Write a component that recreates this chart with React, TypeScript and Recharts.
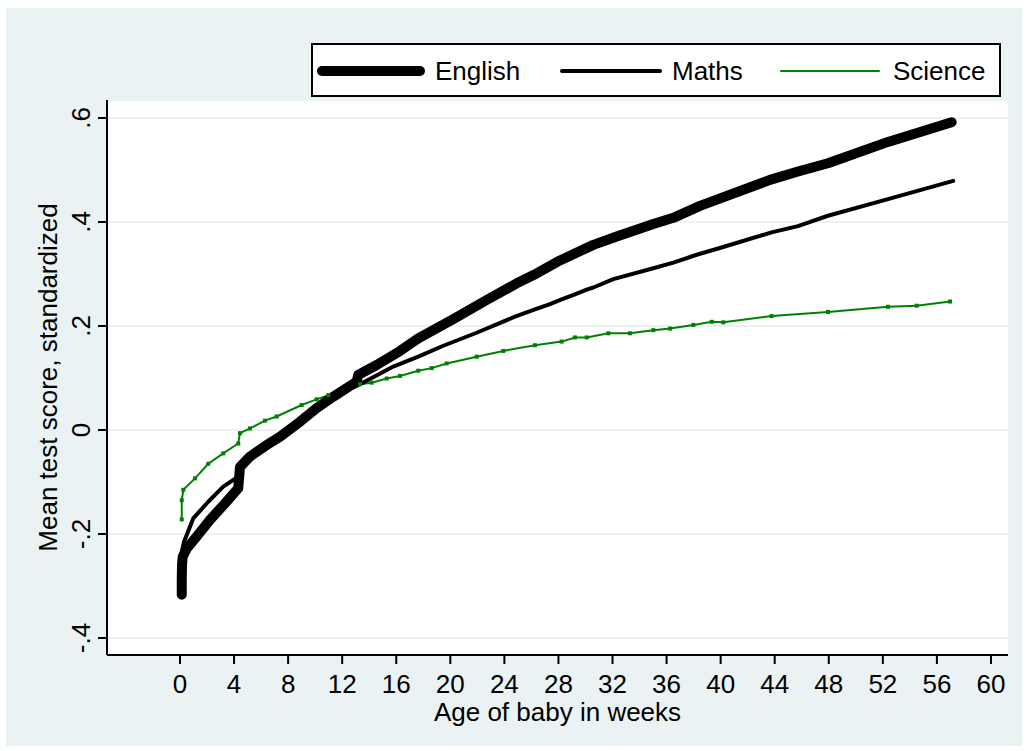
import { LineChart, Line, XAxis, YAxis, CartesianGrid } from "recharts";

const englishWeeks = [
  0.13, 0.13, 0.15, 0.2, 0.5, 1.23, 2.22, 3.33, 4.31, 4.44, 5.18, 6.41, 7.4, 8.88, 10.11, 11.34, 13.07, 13.19,
  14.55, 16.28, 17.63, 20.22, 22.69, 24.91, 26.39, 28.11, 30.58, 32.31, 35.02, 36.5, 38.47, 43.65, 45.72, 47.94,
  52.38, 57.09,
];
const englishScores = [
  -0.317, -0.29, -0.26, -0.244, -0.228, -0.205, -0.173, -0.141, -0.112, -0.071, -0.051, -0.029, -0.013, 0.016,
  0.042, 0.064, 0.093, 0.106, 0.125, 0.152, 0.176, 0.213, 0.25, 0.282, 0.301, 0.326, 0.356, 0.372, 0.396, 0.408,
  0.431, 0.481, 0.497, 0.513, 0.554, 0.592,
];

const mathsWeeks = [
  0.1, 0.13, 0.3, 0.98, 2.09, 3.2, 4.31, 4.44, 5.5, 7.0, 8.9, 10.5, 12.0, 13.32, 15.78, 17.63, 19.48, 21.95,
  24.78, 26.26, 27.37, 28.24, 29.22, 30.09, 30.58, 32.06, 35.02, 36.5, 38.23, 39.82, 43.77, 45.72, 47.94, 52.38,
  57.21,
];
const mathsScores = [
  -0.268, -0.235, -0.215, -0.17, -0.138, -0.109, -0.09, -0.068, -0.048, -0.02, 0.018, 0.048, 0.072, 0.088, 0.122,
  0.141, 0.162, 0.187, 0.218, 0.232, 0.242, 0.251, 0.261, 0.27, 0.274, 0.29, 0.311, 0.322, 0.337, 0.349, 0.38,
  0.392, 0.412, 0.444, 0.479,
];

const scienceWeeks = [
  0.13, 0.13, 0.25, 1.11, 2.09, 3.2, 4.31, 4.44, 5.18, 6.29, 7.15, 9.0, 10.11, 10.97, 13.32, 14.18, 15.29, 16.28,
  17.63, 18.62, 19.73, 21.95, 23.92, 26.26, 28.24, 29.22, 30.09, 31.69, 33.29, 35.02, 36.26, 37.98, 39.34, 40.2,
  43.77, 47.94, 52.38, 54.5, 56.97,
];
const scienceScores = [
  -0.172, -0.135, -0.115, -0.093, -0.065, -0.045, -0.026, -0.006, 0.003, 0.018, 0.026, 0.048, 0.059, 0.067, 0.088,
  0.091, 0.099, 0.104, 0.114, 0.119, 0.128, 0.141, 0.152, 0.163, 0.17, 0.178, 0.178, 0.186, 0.186, 0.192, 0.195,
  0.202, 0.208, 0.207, 0.219, 0.227, 0.237, 0.239, 0.247,
];

const xTicks = [0, 4, 8, 12, 16, 20, 24, 28, 32, 36, 40, 44, 48, 52, 56, 60];
const yTicks = [-0.4, -0.2, 0, 0.2, 0.4, 0.6];
const yTickLabels = ["-.4", "-.2", "0", ".2", ".4", ".6"];

const toRows = (weeks: number[], scores: number[]) => weeks.map((w, i) => ({ week: w, score: scores[i] }));
const english = toRows(englishWeeks, englishScores);
const maths = toRows(mathsWeeks, mathsScores);
const science = toRows(scienceWeeks, scienceScores);

const FONT = "'Liberation Sans', Arial, sans-serif";
const BG = "#EAF2F3";
const GREEN = "#008000";

const XTick = ({ x, y, payload }: any) => (
  <text x={x} y={y + 27} textAnchor="middle" fontSize={26} fontFamily={FONT} fill="#000">
    {payload.value}
  </text>
);

const YTick = ({ x, y, payload }: any) => {
  const idx = yTicks.indexOf(payload.value);
  return (
    <text
      x={x}
      y={y}
      transform={`rotate(-90, ${x}, ${y})`}
      textAnchor="middle"
      fontSize={26}
      fontFamily={FONT}
      fill="#000"
    >
      {idx >= 0 ? yTickLabels[idx] : payload.value}
    </text>
  );
};

const ScienceDot = ({ cx, cy, index }: any) => (
  <rect key={`sd-${index}`} x={cx - 2} y={cy - 2} width={4} height={4} fill={GREEN} />
);

// legend entries: swatch start and text start, relative to the box
const legendItems = [
  { label: "English", width: 10, color: "#000", sx: 11, tx: 124 },
  { label: "Maths", width: 4, color: "#000", sx: 251, tx: 361 },
  { label: "Science", width: 2, color: GREEN, sx: 470, tx: 582 },
];

function Legend() {
  return (
    <svg width={690} height={54} style={{ position: "absolute", left: 311, top: 43, overflow: "visible" }}>
      <rect x={1} y={1} width={688} height={52} fill="#fff" stroke="#000" strokeWidth={2} />
      {legendItems.map((it) => (
        <g key={it.label}>
          <line
            x1={it.sx}
            x2={it.sx + 98}
            y1={28}
            y2={28}
            stroke={it.color}
            strokeWidth={it.width}
            strokeLinecap="round"
          />
          <text x={it.tx} y={37} fontSize={26} fontFamily={FONT} fill="#000">
            {it.label}
          </text>
        </g>
      ))}
    </svg>
  );
}

export default function App() {
  return (
    <div style={{ position: "absolute", left: 0, top: 0, width: 1027, height: 751, background: "#fff" }}>
      <div style={{ position: "absolute", left: 6, top: 8, width: 1016, height: 738, background: BG }} />
      <div style={{ position: "absolute", left: 0, top: 0 }}>
        <LineChart width={1027} height={751} margin={{ top: 100, right: 19, bottom: 0, left: 0 }}>
          <CartesianGrid vertical={false} fill="#fff" stroke={BG} strokeWidth={2} />
          <XAxis
            type="number"
            dataKey="week"
            domain={[-5.4, 61.26]}
            ticks={xTicks}
            interval={0}
            height={96}
            allowDataOverflow
            tick={<XTick />}
            tickSize={9}
            tickMargin={2}
            axisLine={{ stroke: "#000", strokeWidth: 2 }}
            tickLine={{ stroke: "#000", strokeWidth: 2 }}
            label={{
              content: ({ viewBox }: any) => (
                <text
                  x={viewBox.x + viewBox.width / 2}
                  y={viewBox.y + 66}
                  textAnchor="middle"
                  fontSize={26}
                  fontFamily={FONT}
                  fill="#000"
                >
                  Age of baby in weeks
                </text>
              ),
            }}
          />
          <YAxis
            type="number"
            dataKey="score"
            domain={[-0.4327, 0.6346]}
            ticks={yTicks}
            interval={0}
            width={107}
            allowDataOverflow
            tick={<YTick />}
            tickSize={9}
            tickMargin={8}
            axisLine={{ stroke: "#000", strokeWidth: 2 }}
            tickLine={{ stroke: "#000", strokeWidth: 2 }}
            label={{
              content: ({ viewBox }: any) => {
                const cx = viewBox.x + 57;
                const cy = viewBox.y + viewBox.height / 2;
                return (
                  <text
                    x={cx}
                    y={cy}
                    transform={`rotate(-90, ${cx}, ${cy})`}
                    textAnchor="middle"
                    fontSize={26}
                    fontFamily={FONT}
                    fill="#000"
                  >
                    Mean test score, standardized
                  </text>
                );
              },
            }}
          />
          <Line
            data={science}
            dataKey="score"
            type="linear"
            stroke={GREEN}
            strokeWidth={2}
            dot={<ScienceDot />}
            activeDot={false}
            isAnimationActive={false}
          />
          <Line
            data={maths}
            dataKey="score"
            type="linear"
            stroke="#000"
            strokeWidth={4}
            strokeLinejoin="round"
            strokeLinecap="round"
            dot={false}
            activeDot={false}
            isAnimationActive={false}
          />
          <Line
            data={english}
            dataKey="score"
            type="linear"
            stroke="#000"
            strokeWidth={10}
            strokeLinejoin="round"
            strokeLinecap="round"
            dot={false}
            activeDot={false}
            isAnimationActive={false}
          />
        </LineChart>
      </div>
      <Legend />
    </div>
  );
}
